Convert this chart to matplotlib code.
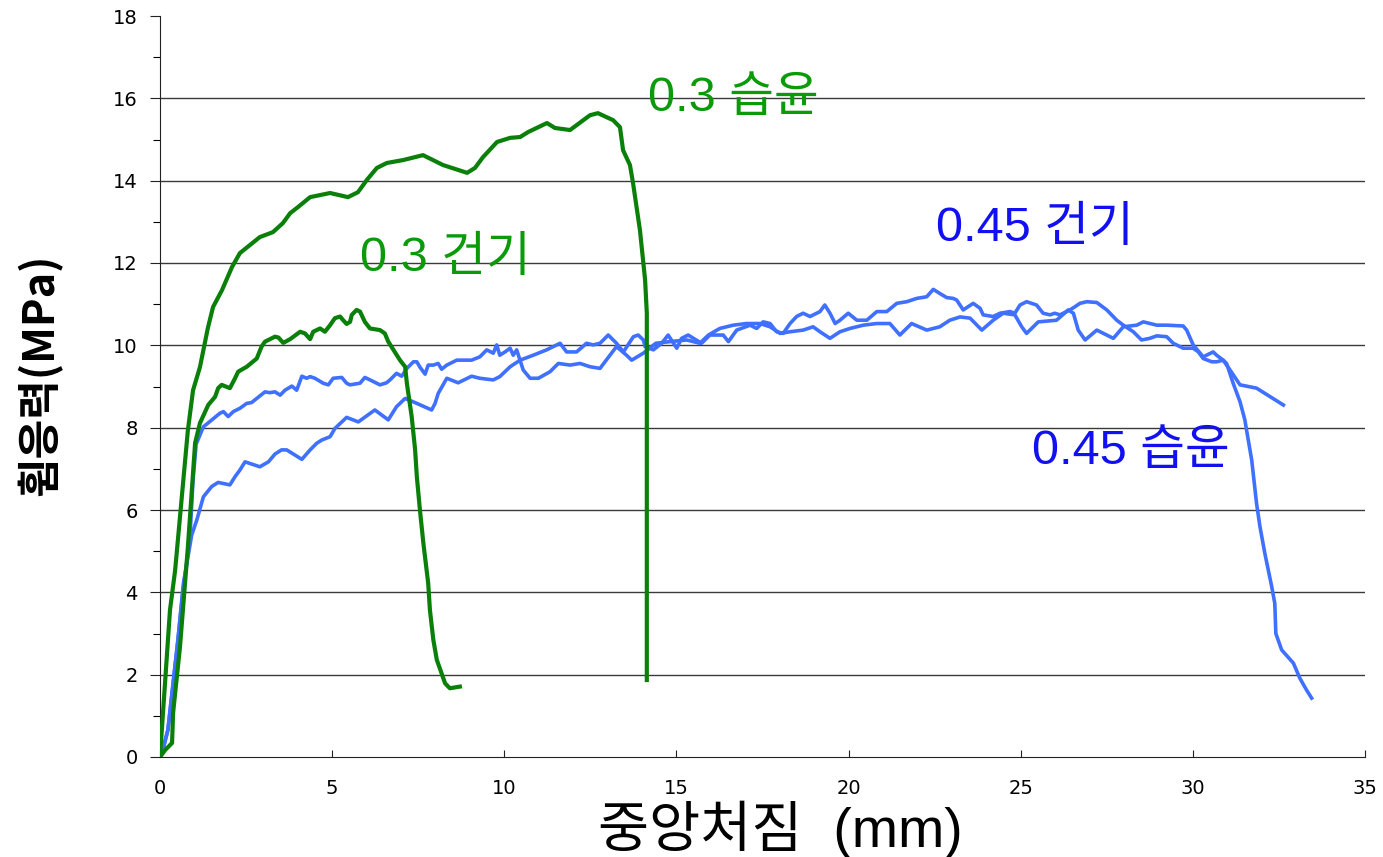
import matplotlib
matplotlib.use("Agg")
import matplotlib.pyplot as plt
from matplotlib.ticker import MultipleLocator

# ---------------- data ----------------
wet03_x = [0, 0.29, 0.44, 0.81, 0.96, 1.16, 1.39, 1.54, 1.80, 2.09,
           2.32, 2.90, 3.28, 3.57, 3.78, 4.01, 4.36, 4.94, 5.46, 5.75,
           6.01, 6.30, 6.59, 7.06, 7.64, 8.22, 8.92, 9.15, 9.38, 9.79,
           10.17, 10.46, 10.69, 11.24, 11.47, 11.91, 12.49, 12.72, 13.16, 13.36,
           13.45, 13.65, 13.74, 13.94, 14.09, 14.14, 14.14]
wet03_y = [0, 3.57, 4.54, 7.94, 8.91, 9.47, 10.42, 10.93, 11.34, 11.90,
           12.24, 12.63, 12.75, 12.97, 13.21, 13.36, 13.60, 13.70, 13.60, 13.72,
           14.02, 14.31, 14.43, 14.50, 14.62, 14.38, 14.19, 14.31, 14.57, 14.94,
           15.04, 15.06, 15.18, 15.40, 15.28, 15.23, 15.59, 15.64, 15.47, 15.30,
           14.74, 14.38, 13.94, 12.80, 11.59, 10.78, 1.87]

dry03_x = [0, 0.15, 0.35, 0.38, 0.58, 0.81, 1.02, 1.16, 1.40, 1.60,
           1.69, 1.79, 2.03, 2.18, 2.27, 2.52, 2.81, 2.95, 3.05, 3.34,
           3.44, 3.58, 3.78, 4.07, 4.21, 4.36, 4.45, 4.65, 4.79, 4.94,
           5.08, 5.23, 5.32, 5.42, 5.52, 5.57, 5.71, 5.81, 5.95, 6.10,
           6.39, 6.53, 6.63, 6.97, 7.12, 7.17, 7.31, 7.41, 7.46, 7.55,
           7.65, 7.79, 7.84, 7.94, 8.04, 8.18, 8.28, 8.42, 8.71]
dry03_y = [0, 0.17, 0.34, 1.07, 2.67, 5.10, 7.63, 8.11, 8.55, 8.75,
           8.96, 9.04, 8.96, 9.20, 9.36, 9.48, 9.68, 9.97, 10.09, 10.21,
           10.19, 10.06, 10.15, 10.33, 10.29, 10.15, 10.33, 10.41, 10.33, 10.49,
           10.66, 10.70, 10.61, 10.52, 10.57, 10.74, 10.86, 10.82, 10.57, 10.41,
           10.37, 10.29, 10.09, 9.64, 9.48, 9.08, 8.27, 7.46, 6.81, 6.00,
           5.19, 4.22, 3.57, 2.84, 2.36, 2.03, 1.79, 1.67, 1.71]

# 0.45 curve ending on the plateau (~8.5 MPa)
a045_x = [0, 0.06, 0.23, 0.52, 0.67, 0.87, 0.96, 1.05, 1.26, 1.74,
          1.84, 1.98, 2.13, 2.32, 2.52, 2.66, 2.81, 3.05, 3.19, 3.34,
          3.49, 3.63, 3.83, 3.97, 4.12, 4.26, 4.36, 4.50, 4.74, 4.89,
          5.03, 5.28, 5.42, 5.52, 5.81, 5.95, 6.10, 6.39, 6.58, 6.68,
          6.87, 7.02, 7.17, 7.36, 7.46, 7.55, 7.70, 7.79, 7.94, 8.08,
          8.18, 8.33, 8.62, 9.05, 9.29, 9.49, 9.68, 9.78, 9.87, 10.02,
          10.17, 10.26, 10.36, 10.55, 10.75, 10.99, 11.33, 11.57, 11.91, 12.20,
          12.49, 12.78, 13.26, 13.55, 13.70, 14.04, 14.40, 14.81, 15.30, 15.68,
          15.93, 16.26, 16.65, 17.04, 17.43, 17.72, 18.01, 18.30, 18.68, 18.97,
          19.17, 19.46, 19.75, 20.04, 20.43, 20.82, 21.20, 21.49, 21.83, 22.27,
          22.65, 22.94, 23.24, 23.53, 23.87, 24.20, 24.49, 24.83, 25.03, 25.17,
          25.51, 26.04, 26.38, 26.53, 26.67, 26.87, 27.21, 27.69, 27.98, 28.37,
          28.56, 28.95, 29.24, 29.72, 29.82, 30.01, 30.30, 30.59, 30.69, 30.88,
          31.08, 31.37, 31.85, 32.63]
a045_y = [0, 0.10, 0.66, 2.84, 4.06, 5.34, 6.73, 7.60, 8.02, 8.35,
          8.39, 8.27, 8.39, 8.47, 8.59, 8.61, 8.71, 8.87, 8.85, 8.87,
          8.79, 8.91, 9.01, 8.91, 9.25, 9.20, 9.24, 9.20, 9.08, 9.04,
          9.20, 9.22, 9.08, 9.04, 9.08, 9.22, 9.16, 9.04, 9.09, 9.16,
          9.32, 9.25, 9.44, 9.60, 9.60, 9.47, 9.30, 9.52, 9.52, 9.56,
          9.42, 9.52, 9.64, 9.64, 9.72, 9.89, 9.81, 10.01, 9.76, 9.84,
          9.93, 9.76, 9.89, 9.40, 9.20, 9.20, 9.36, 9.56, 9.52, 9.56,
          9.48, 9.44, 9.97, 9.76, 9.64, 9.81, 10.05, 10.09, 10.13, 10.05,
          10.25, 10.41, 10.49, 10.53, 10.53, 10.45, 10.29, 10.33, 10.37, 10.45,
          10.33, 10.17, 10.33, 10.41, 10.49, 10.53, 10.53, 10.25, 10.53, 10.37,
          10.45, 10.61, 10.69, 10.66, 10.37, 10.61, 10.78, 10.74, 10.45, 10.29,
          10.57, 10.61, 10.86, 10.78, 10.37, 10.13, 10.37, 10.17, 10.45, 10.49,
          10.57, 10.49, 10.49, 10.47, 10.37, 10.01, 9.72, 9.84, 9.76, 9.64,
          9.40, 9.04, 8.96, 8.55]

# 0.45 curve with the long final drop
b045_x = [0, 0.06, 0.23, 0.52, 0.68, 0.78, 0.92, 1.07, 1.26, 1.50,
          1.69, 2.03, 2.18, 2.32, 2.47, 2.90, 3.15, 3.34, 3.53, 3.68,
          4.12, 4.36, 4.55, 4.70, 4.94, 5.08, 5.28, 5.42, 5.76, 6.24,
          6.63, 6.87, 7.12, 7.46, 7.89, 7.99, 8.08, 8.33, 8.66, 9.05,
          9.29, 9.68, 9.87, 10.17, 10.46, 10.84, 11.23, 11.62, 11.81, 12.10,
          12.39, 12.58, 12.78, 13.02, 13.26, 13.46, 13.75, 13.89, 14.04, 14.09,
          14.33, 14.57, 14.76, 15.01, 15.15, 15.34, 15.73, 15.97, 16.36, 16.51,
          16.75, 17.14, 17.33, 17.52, 17.72, 17.91, 18.10, 18.30, 18.49, 18.68,
          18.88, 19.17, 19.31, 19.46, 19.61, 19.75, 19.99, 20.24, 20.53, 20.82,
          21.11, 21.40, 21.69, 21.98, 22.27, 22.46, 22.65, 22.85, 23.04, 23.14,
          23.33, 23.62, 23.82, 23.91, 24.20, 24.40, 24.69, 24.83, 24.98, 25.17,
          25.46, 25.65, 25.85, 25.99, 26.14, 26.43, 26.58, 26.72, 26.92, 27.21,
          27.50, 27.79, 27.98, 28.27, 28.51, 28.75, 28.95, 29.24, 29.43, 29.72,
          30.01, 30.16, 30.30, 30.55, 30.69, 30.88, 30.98, 31.17, 31.37, 31.51,
          31.56, 31.71, 31.85, 31.95, 32.09, 32.29, 32.38, 32.41, 32.58, 32.92,
          33.11, 33.30, 33.45]
b045_y = [0, 0.10, 0.66, 2.84, 4.22, 4.70, 5.39, 5.76, 6.32, 6.57,
          6.67, 6.61, 6.81, 6.97, 7.17, 7.05, 7.17, 7.36, 7.46, 7.46,
          7.23, 7.46, 7.62, 7.70, 7.78, 7.98, 8.14, 8.25, 8.14, 8.43,
          8.19, 8.51, 8.71, 8.59, 8.43, 8.59, 8.83, 9.20, 9.09, 9.25,
          9.20, 9.16, 9.24, 9.48, 9.64, 9.76, 9.89, 10.05, 9.84, 9.84,
          10.05, 10.01, 10.05, 10.25, 10.05, 9.84, 10.21, 10.25, 10.13, 9.97,
          9.89, 10.05, 10.25, 9.93, 10.17, 10.25, 10.05, 10.25, 10.25, 10.09,
          10.37, 10.49, 10.41, 10.57, 10.53, 10.33, 10.29, 10.53, 10.70, 10.78,
          10.70, 10.82, 10.98, 10.78, 10.53, 10.61, 10.78, 10.61, 10.61, 10.82,
          10.82, 11.02, 11.06, 11.14, 11.18, 11.36, 11.26, 11.16, 11.14, 11.10,
          10.86, 11.02, 10.90, 10.74, 10.70, 10.78, 10.82, 10.78, 10.98, 11.06,
          10.98, 10.78, 10.74, 10.78, 10.74, 10.86, 10.94, 11.02, 11.06, 11.04,
          10.86, 10.61, 10.49, 10.33, 10.13, 10.17, 10.23, 10.21, 10.05, 9.93,
          9.93, 9.84, 9.68, 9.60, 9.60, 9.64, 9.56, 9.08, 8.63, 8.19,
          7.94, 7.21, 6.16, 5.59, 4.95, 4.14, 3.73, 3.00, 2.60, 2.28,
          1.91, 1.63, 1.43]

labels = ["0.3 습윤", "0.3 건기", "0.45 건기", "0.45 습윤"]
label_x = [16.64, 8.28, 25.41, 28.2]
label_y = [16.0, 12.1, 12.85, 7.43]
label_colors = ["#0A9A0A", "#0A9A0A", "#1010F0", "#1010F0"]

x_ticks = [0, 5, 10, 15, 20, 25, 30, 35]
y_ticks = [0, 2, 4, 6, 8, 10, 12, 14, 16, 18]
x_label = "중앙처짐  (mm)"
y_label = "휨응력(MPa)"

KR = ["Noto Sans CJK KR", "DejaVu Sans"]
LATIN_KR = ["Liberation Sans", "Noto Sans CJK KR"]

# ---------------- figure ----------------
W, H = 1383, 857
fig = plt.figure(figsize=(W / 100, H / 100), dpi=100)
ax = fig.add_axes([160 / W, (H - 757) / H, (1365 - 160) / W, (757 - 16) / H])

green = "#0A800A"
blue = "#3F70FF"
ax.plot(b045_x, b045_y, color=blue, lw=2.6, solid_joinstyle="round", zorder=3)
ax.plot(a045_x, a045_y, color=blue, lw=2.6, solid_joinstyle="round", zorder=3)
ax.plot(dry03_x, dry03_y, color=green, lw=3.0, solid_joinstyle="round", zorder=4)
ax.plot(wet03_x, wet03_y, color=green, lw=3.0, solid_joinstyle="round", zorder=4)

ax.set_xlim(0, 35)
ax.set_ylim(0, 18)
for g in y_ticks[1:-1]:
    ax.axhline(g, color="#3a3a3a", lw=1.0, zorder=1)

ax.spines["top"].set_visible(False)
ax.spines["right"].set_visible(False)
ax.spines["left"].set_color("#222222")
ax.spines["bottom"].set_color("#222222")

ax.set_xticks(x_ticks)
ax.set_yticks(y_ticks)
ax.yaxis.set_minor_locator(MultipleLocator(1))
ax.tick_params(axis="x", direction="in", length=5, width=0.8, pad=16,
               labelsize=14, colors="#222222")
ax.tick_params(axis="y", which="major", direction="out", length=7, width=0.8,
               pad=9, labelsize=14, colors="#222222")
ax.tick_params(axis="y", which="minor", direction="out", length=5, width=0.8)
for t in ax.get_xticklabels() + ax.get_yticklabels():
    t.set_fontfamily("DejaVu Sans")
    t.set_color("black")

fig.text(780 / W, 1 - 830 / H, x_label, family=LATIN_KR, fontsize=40,
         ha="center", va="center", color="black")
fig.text(40 / W, 1 - 375 / H, y_label, family=KR, fontsize=31,
         fontweight="bold", rotation=90, ha="center", va="center", color="black")

for s, lx, ly, c in zip(labels, label_x, label_y, label_colors):
    ax.text(lx, ly, s, family=LATIN_KR, fontsize=35, color=c, ha="center",
            va="center", zorder=5)

fig.savefig("out.png", dpi=100)
